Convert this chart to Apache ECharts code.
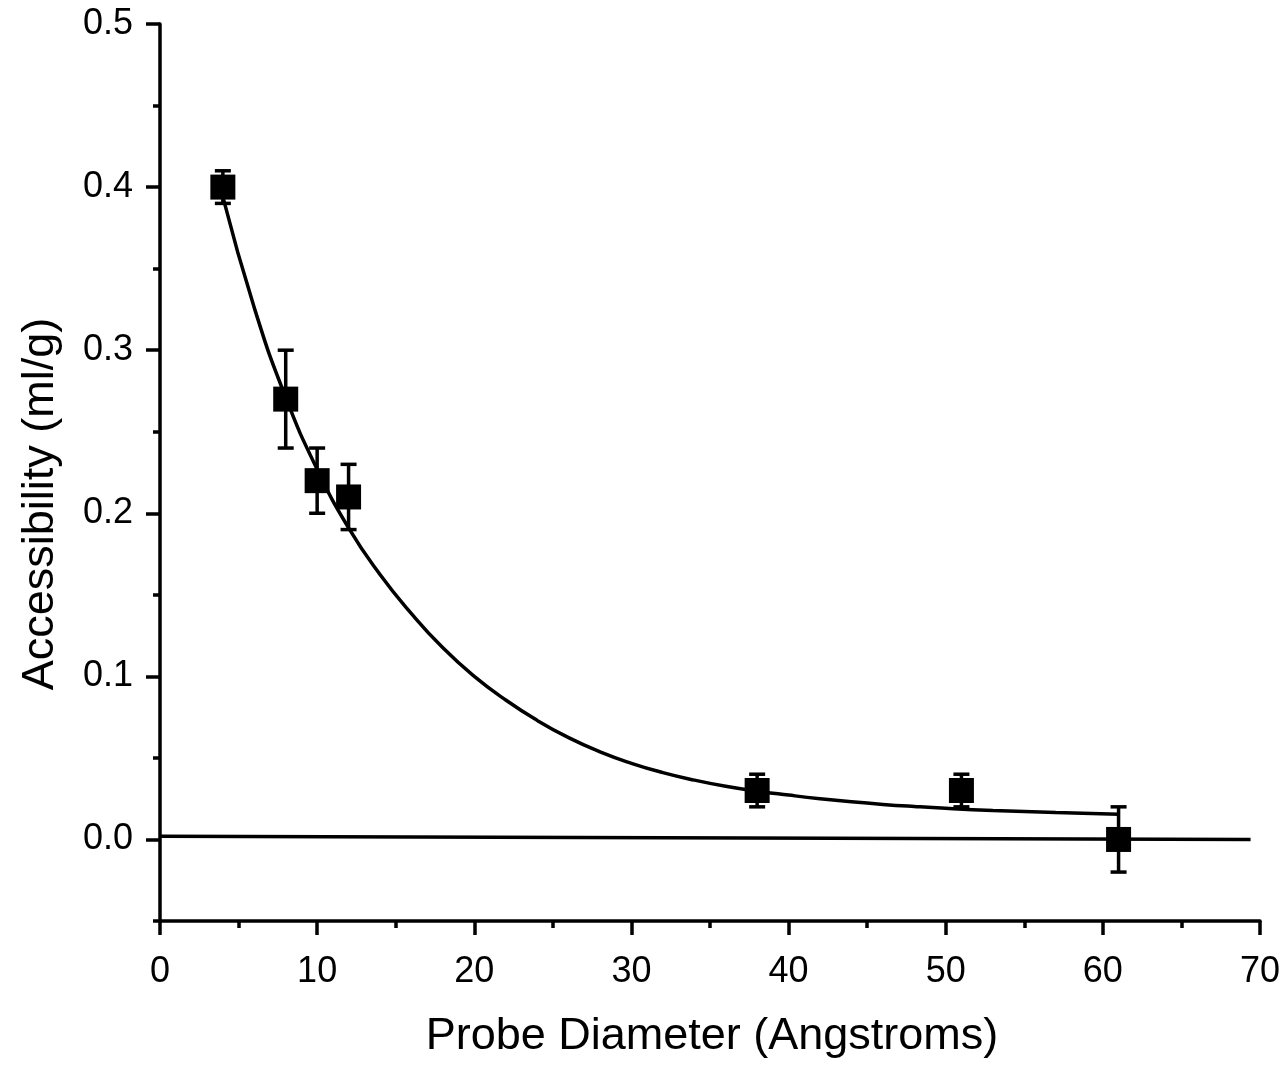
<!DOCTYPE html>
<html>
<head>
<meta charset="utf-8">
<script src="https://cdn.jsdelivr.net/npm/echarts@6/dist/echarts.min.js"></script>
<style>
  html, body { margin: 0; padding: 0; background: #fff; }
  #main { width: 1287px; height: 1066px; }
</style>
</head>
<body>
<div id="main"></div>
<script>
// measured points (probe diameter, accessibility, error)
var probeX = [4, 8, 10, 12, 38, 51, 61];
var accessY = [0.40, 0.27, 0.22, 0.21, 0.03, 0.03, 0.00];
var accessErr = [0.01, 0.03, 0.02, 0.02, 0.01, 0.01, 0.02];

// fitted decay curve
var fitX = [4, 6, 8, 10, 12, 14, 16, 18, 20, 22, 24, 26, 28, 30, 32, 34, 36, 38, 40,
  42, 44, 46, 48, 50, 53, 57, 61];
var fitY = [0.394, 0.326, 0.271, 0.227, 0.191, 0.1625, 0.1385, 0.1175, 0.1, 0.0855, 0.073,
  0.0624, 0.0537, 0.0467, 0.041, 0.0364, 0.0326, 0.0296, 0.0272,
  0.025, 0.0231, 0.0215, 0.0202, 0.0191, 0.0178, 0.0165, 0.0155];

// baseline
var baseX = [0, 69.4];
var baseY = [0.002, 0.0];

var yMajor = [0, 0.1, 0.2, 0.3, 0.4, 0.5];

var pts = probeX.map(function (x, i) { return [x, accessY[i]]; });
var errs = probeX.map(function (x, i) { return [x, accessY[i] - accessErr[i], accessY[i] + accessErr[i]]; });
var fit = fitX.map(function (x, i) { return [x, fitY[i]]; });
var base = baseX.map(function (x, i) { return [x, baseY[i]]; });

var font = '"Liberation Sans", Arial, sans-serif';
var lw = 3.5;
var chart = echarts.init(document.getElementById('main'));
chart.setOption({
  animation: false,
  backgroundColor: '#fff',
  grid: { left: 160, right: 27, top: 24, bottom: 145 },
  xAxis: {
    type: 'value', min: 0, max: 70, interval: 10,
    axisLine: { onZero: false, lineStyle: { color: '#000', width: lw } },
    axisTick: { length: 14, lineStyle: { color: '#000', width: lw } },
    minorTick: { show: true, splitNumber: 2, length: 7, lineStyle: { color: '#000', width: lw } },
    splitLine: { show: false },
    axisLabel: { color: '#000', fontSize: 36, fontFamily: font, margin: 33 }
  },
  yAxis: [{
    type: 'value', min: -0.05, max: 0.5,
    axisLine: { show: true, onZero: false, lineStyle: { color: '#000', width: lw } },
    axisTick: { show: true, length: 14, customValues: yMajor, lineStyle: { color: '#000', width: lw } },
    splitLine: { show: false },
    axisLabel: {
      color: '#000', fontSize: 36, fontFamily: font, margin: 27, customValues: yMajor,
      formatter: function (v) { return v.toFixed(1); }
    }
  }, {
    type: 'value', min: -0.05, max: 0.5, interval: 0.05, position: 'left',
    axisLine: { show: false, onZero: false },
    axisTick: { show: true, length: 7, lineStyle: { color: '#000', width: lw } },
    splitLine: { show: false },
    axisLabel: { show: false }
  }],
  graphic: [{
    type: 'text', x: 712, y: 1037,
    style: { text: 'Probe Diameter (Angstroms)', fill: '#000', font: '45px ' + font, textAlign: 'center', textVerticalAlign: 'middle' }
  }, {
    type: 'text', x: 41, y: 504, rotation: Math.PI / 2,
    style: { text: 'Accessibility (ml/g)', fill: '#000', font: '45px ' + font, textAlign: 'center', textVerticalAlign: 'middle' }
  }],
  series: [{
    type: 'line', data: base, showSymbol: false, symbol: 'none',
    lineStyle: { color: '#000', width: lw }, z: 2
  }, {
    type: 'line', data: fit, smooth: true, showSymbol: false, symbol: 'none',
    lineStyle: { color: '#000', width: lw }, z: 2
  }, {
    type: 'custom', data: errs, z: 3,
    renderItem: function (params, api) {
      var lo = api.coord([api.value(0), api.value(1)]);
      var hi = api.coord([api.value(0), api.value(2)]);
      var cw = 8;
      var st = { stroke: '#000', lineWidth: lw };
      return {
        type: 'group',
        children: [
          { type: 'line', shape: { x1: lo[0], y1: lo[1], x2: hi[0], y2: hi[1] }, style: st },
          { type: 'line', shape: { x1: lo[0] - cw, y1: lo[1], x2: lo[0] + cw, y2: lo[1] }, style: st },
          { type: 'line', shape: { x1: hi[0] - cw, y1: hi[1], x2: hi[0] + cw, y2: hi[1] }, style: st }
        ]
      };
    }
  }, {
    type: 'scatter', data: pts, symbol: 'rect', symbolSize: 25, z: 4,
    itemStyle: { color: '#000', opacity: 1, borderRadius: 2 }
  }]
});
</script>
</body>
</html>
